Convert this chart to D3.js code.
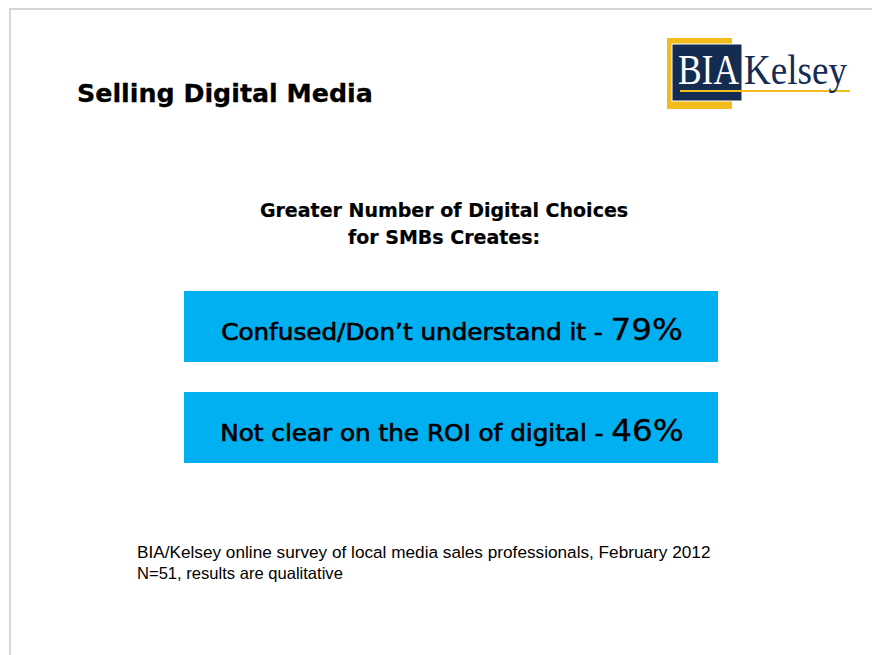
<!DOCTYPE html>
<html>
<head>
<meta charset="utf-8">
<script src="https://cdn.jsdelivr.net/npm/d3@7"></script>
<style>
  html, body { margin: 0; padding: 0; background: #ffffff; }
  svg { display: block; }
</style>
</head>
<body>
<script>
// Survey findings shown as labelled boxes
const categories = ["Confused/Don\u2019t understand it", "Not clear on the ROI of digital"];
const values = [79, 46];

const pageTitle = "Selling Digital Media";
const subtitleLines = ["Greater Number of Digital Choices", "for SMBs Creates:"];
const sourceLines = [
  "BIA/Kelsey online survey of local media sales professionals, February 2012",
  "N=51, results are qualitative"
];

const W = 872, H = 655;
const svg = d3.select("body").append("svg").attr("width", W).attr("height", H);

// Horizontally stretch/compress a text element to a target width around an anchor
function fitX(sel, targetW, ax) {
  const w = sel.node().getComputedTextLength();
  const k = targetW / w;
  sel.attr("transform", `translate(${ax},0) scale(${k},1) translate(${-ax},0)`);
  return k;
}

// Slide frame
svg.append("rect")
  .attr("x", 10).attr("y", 9).attr("width", W + 20).attr("height", H + 20)
  .attr("fill", "none").attr("stroke", "#d6d6d6").attr("stroke-width", 2);

// Title
const title = svg.append("text")
  .attr("x", 77).attr("y", 102)
  .attr("font-family", "'DejaVu Sans', Verdana, sans-serif")
  .attr("font-weight", "bold").attr("font-size", 24.5)
  .attr("fill", "#000").attr("stroke", "#000").attr("stroke-width", 0.3)
  .text(pageTitle);
fitX(title, 296, 77);

// Logo
const logo = svg.append("g");
logo.append("rect").attr("x", 667).attr("y", 38).attr("width", 65).attr("height", 71).attr("fill", "#f2bd1c");
logo.append("rect").attr("x", 672).attr("y", 44).attr("width", 70).attr("height", 57)
  .attr("fill", "#142c52").attr("stroke", "#ffffff").attr("stroke-width", 1);
logo.append("rect").attr("x", 680).attr("y", 90).attr("width", 170).attr("height", 2).attr("fill", "#f2bd1c");
const bia = logo.append("text").attr("x", 678).attr("y", 84)
  .attr("font-family", "'Liberation Serif', 'Times New Roman', serif").attr("font-size", 42)
  .attr("fill", "#ffffff").text("BIA");
fitX(bia, 61, 678);
const kel = logo.append("text").attr("x", 744).attr("y", 84)
  .attr("font-family", "'Liberation Serif', 'Times New Roman', serif").attr("font-size", 42)
  .attr("fill", "#142c52").text("Kelsey");
fitX(kel, 103, 744);

// Subtitle
subtitleLines.forEach((t, i) => {
  svg.append("text")
    .attr("x", 444).attr("y", 217 + i * 27)
    .attr("text-anchor", "middle")
    .attr("font-family", "'DejaVu Sans', Verdana, sans-serif")
    .attr("font-weight", "bold").attr("font-size", 19)
    .attr("fill", "#000").attr("stroke", "#000").attr("stroke-width", 0.2)
    .text(t);
});

// Boxes
const y = d3.scaleBand().domain(categories).range([291, 463]).paddingInner(0.297).paddingOuter(0);
const x = d3.scaleLinear().domain([0, 1]).range([184, 718]);

const rows = svg.append("g").selectAll("g")
  .data(categories.map((c, i) => ({ category: c, value: values[i] })))
  .join("g");

rows.append("rect")
  .attr("x", x(0)).attr("width", x(1) - x(0))
  .attr("y", d => y(d.category)).attr("height", y.bandwidth())
  .attr("fill", "#00b0f0");

// Labels share one horizontal compression, set by the first (longest) label
let labelK = null;
rows.each(function(d) {
  const cx = (x(0) + x(1)) / 2 + 1;
  const t = d3.select(this).append("text")
    .attr("x", cx).attr("y", y(d.category) + y.bandwidth() / 2 + 13.5)
    .attr("text-anchor", "middle")
    .attr("font-family", "'DejaVu Sans', Tahoma, sans-serif")
    .attr("fill", "#000").attr("stroke", "#000").attr("stroke-width", 0.7);
  t.append("tspan").attr("font-size", 23.5).text(d.category + " - ");
  t.append("tspan").attr("font-size", 31).attr("stroke-width", 0.35).text(d.value + "%");
  if (labelK === null) labelK = 462 / t.node().getComputedTextLength();
  t.attr("transform", `translate(${cx},0) scale(${labelK},1) translate(${-cx},0)`);
});

// Source note
sourceLines.forEach((t, i) => {
  svg.append("text")
    .attr("x", 137).attr("y", 558 + i * 21)
    .attr("font-family", "'Liberation Sans', Arial, sans-serif")
    .attr("font-size", 16.5).attr("fill", "#000").text(t);
});
svg.selectAll("text").filter(function() { return this.textContent === sourceLines[0]; })
  .each(function() { fitX(d3.select(this), 574, 137); });
svg.selectAll("text").filter(function() { return this.textContent === sourceLines[1]; })
  .each(function() { fitX(d3.select(this), 206, 137); });
</script>
</body>
</html>
